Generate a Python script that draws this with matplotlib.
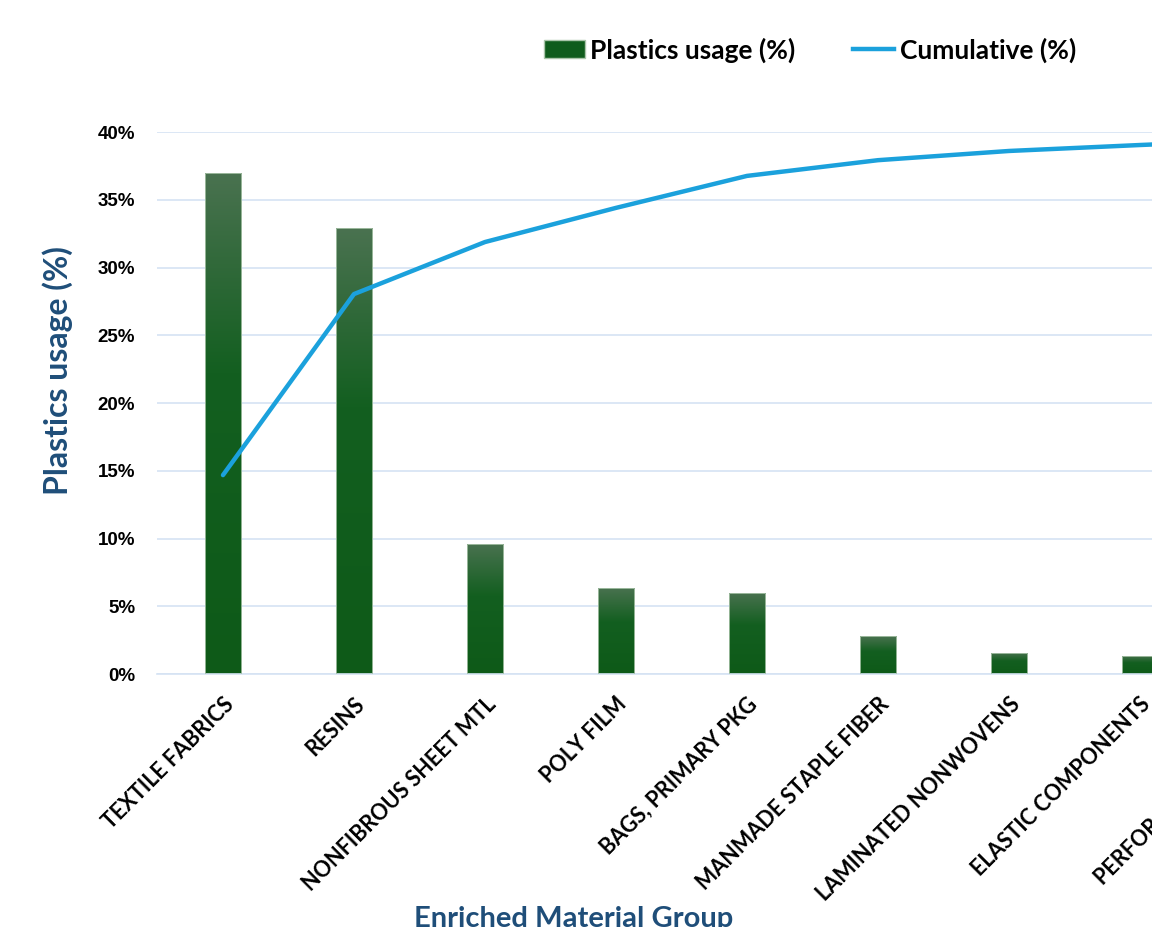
import matplotlib.pyplot as plt
import numpy as np
from matplotlib.colors import LinearSegmentedColormap
from matplotlib.lines import Line2D
from matplotlib.patches import Patch

# Pareto data (right part of the original is cropped away)
groups = ["TEXTILE FABRICS", "RESINS", "NONFIBROUS SHEET MTL", "POLY FILM",
          "BAGS, PRIMARY PKG", "MANMADE STAPLE FIBER", "LAMINATED NONWOVENS",
          "ELASTIC COMPONENTS", "PERFORATED TOPSHEET"]
usage = [37.0, 32.9, 9.6, 6.35, 5.98, 2.8, 1.55, 1.33, 1.0]
cumulative = [36.7, 70.1, 79.7, 86.0, 91.9, 94.8, 96.5, 97.6, 98.6]
yticks = [0, 5, 10, 15, 20, 25, 30, 35, 40]

navy = "#1f4e79"
green_cmap = LinearSegmentedColormap.from_list(
    "bar", [(0, "#0e5a18"), (0.6, "#135f20"), (1.0, "#4a7250")])

fig = plt.figure(figsize=(11.52, 9.27), dpi=100)
# axes wider than the figure: the reference is a crop of a bigger chart
ax = fig.add_axes([0.1367, 0.2729, 1.0234, 0.5847])

x = np.arange(len(groups))
bars = ax.bar(x, usage, width=0.275, color="none", edgecolor="#a9c4a9",
              linewidth=0.6, zorder=3)

# per-bar vertical gradient
grad = np.linspace(0, 1, 256).reshape(-1, 1)
for b in bars:
    x0, w, h = b.get_x(), b.get_width(), b.get_height()
    im = ax.imshow(grad, cmap=green_cmap, origin="lower", aspect="auto",
                   extent=(x0, x0 + w, 0, h), zorder=2.5)
    im.set_clip_path(b)

ax.set_xlim(-0.5, len(groups) - 0.5)
ax.set_ylim(0, 40)
ax.set_yticks(yticks)
ax.set_yticklabels([f"{t}%" for t in yticks], fontsize=13.5, fontweight="bold",
                   family="Liberation Sans")
ax.grid(axis="y", color="#d5e3f3", linewidth=1.2, zorder=0)
ax.set_axisbelow(True)
for s in ["top", "right", "left"]:
    ax.spines[s].set_visible(False)
ax.spines["bottom"].set_color("#d5e3f3")
ax.spines["bottom"].set_linewidth(1.2)
ax.tick_params(axis="y", length=0, pad=16)
ax.tick_params(axis="x", length=0, pad=14)

ax.set_xticks(x)
ax.set_xticklabels(groups, rotation=45, ha="right", rotation_mode="anchor",
                   fontsize=15.5, fontweight="bold", family="Lato")

ax.set_ylabel("Plastics usage (%)", fontsize=23, fontweight="bold",
              color=navy, family="Lato")
ax.yaxis.set_label_coords(-0.072, 0.56)
ax.set_xlabel("Enriched Material Group", fontsize=21, fontweight="bold",
              color=navy, family="Lato")
ax.xaxis.set_label_coords(0.353, -0.428)

# cumulative line on a hidden 0-100% secondary axis
ax2 = ax.twinx()
ax2.set_ylim(0, 100)
ax2.plot(x, cumulative, color="#1ba1dc", linewidth=3.2, solid_capstyle="round",
         zorder=4)
ax2.axis("off")

handles = [Patch(facecolor="#0f5c1c", edgecolor="#a9c4a9"),
           Line2D([0], [0], color="#1ba1dc", linewidth=3.2)]
fig.legend(handles, ["Plastics usage (%)", "Cumulative (%)"], loc="center",
           bbox_to_anchor=(0.703, 0.946), ncol=2, frameon=False,
           prop={"family": "Lato", "weight": "bold", "size": 19},
           handlelength=1.55, handletextpad=0.2, columnspacing=2.2)

fig.savefig("out.png", dpi=100)
